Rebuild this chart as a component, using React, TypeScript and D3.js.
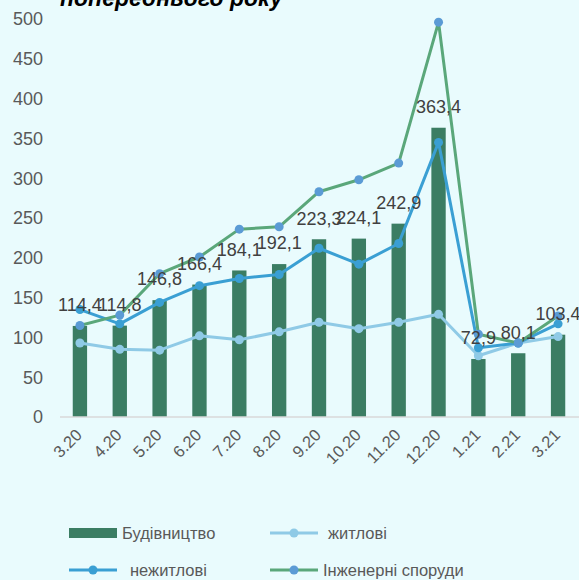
import React, { useEffect, useRef } from 'react';
import * as d3 from 'd3';

const months = ['3.20', '4.20', '5.20', '6.20', '7.20', '8.20', '9.20', '10.20', '11.20', '12.20', '1.21', '2.21', '3.21'];
const construction = [114.4, 114.8, 146.8, 166.4, 184.1, 192.1, 223.3, 224.1, 242.9, 363.4, 72.9, 80.1, 103.4];
const residential = [93, 85, 84, 102, 97, 107, 119, 111, 119, 129, 77, 93, 101];
const nonResidential = [135, 117, 144, 165, 174, 179, 212, 192, 218, 345, 87, 93, 117];
const engineering = [115, 128, 180, 201, 236, 239, 283, 298, 319, 496, 104, 93, 127];
const yTicks = [0, 50, 100, 150, 200, 250, 300, 350, 400, 450, 500];

const W = 579, H = 580;
const FONT = '"Liberation Sans", Arial, sans-serif';

const App = () => {
    const ref = useRef<SVGSVGElement>(null);

    useEffect(() => {
        const svg = d3.select(ref.current);
        svg.selectAll('*').remove();

        const x = d3.scaleBand().domain(months).range([60, 578]).padding(0);
        const y = d3.scaleLinear().domain([0, 500]).range([417, 19]);
        const cx = (m: string) => (x(m) as number) + x.bandwidth() / 2;
        const barW = x.bandwidth() * 0.36;

        svg.append('rect').attr('width', W).attr('height', H).attr('fill', '#e9fbfd');

        // title, mostly cut off at the top
        svg.append('text')
            .attr('x', 60).attr('y', 6)
            .style('font-family', FONT).style('font-size', '23px')
            .style('font-weight', 'bold').style('font-style', 'italic')
            .attr('fill', '#000')
            .text('попереднього року');

        // y axis labels
        svg.append('g').selectAll('text').data(yTicks).enter().append('text')
            .attr('x', 43).attr('y', d => y(d)).attr('dy', '0.35em')
            .attr('text-anchor', 'end')
            .style('font-family', FONT).style('font-size', '18px')
            .attr('fill', '#595959')
            .text(d => d);

        // bars
        svg.append('g').selectAll('rect').data(construction).enter().append('rect')
            .attr('x', (d, i) => cx(months[i]) - barW / 2)
            .attr('y', d => y(d))
            .attr('width', barW)
            .attr('height', d => y(0) - y(d))
            .attr('fill', '#3b7d63');

        // baseline
        svg.append('line')
            .attr('x1', 60).attr('x2', 579)
            .attr('y1', y(0)).attr('y2', y(0))
            .attr('stroke', '#d9d9d9').attr('stroke-width', 1.5);

        const line = d3.line<number>()
            .x((d, i) => cx(months[i]))
            .y(d => y(d));

        const series = [
            { values: residential, stroke: '#8fcae6', marker: '#8fcae6' },
            { values: nonResidential, stroke: '#3a9fd3', marker: '#3a9fd3' },
            { values: engineering, stroke: '#5aa77a', marker: '#5b9bd5' },
        ];

        series.forEach(s => {
            svg.append('path')
                .datum(s.values)
                .attr('d', line)
                .attr('fill', 'none')
                .attr('stroke', s.stroke)
                .attr('stroke-width', 3)
                .attr('stroke-linejoin', 'round');
            svg.append('g').selectAll('circle').data(s.values).enter().append('circle')
                .attr('cx', (d, i) => cx(months[i]))
                .attr('cy', d => y(d))
                .attr('r', 4.5)
                .attr('fill', s.marker);
        });

        // data labels
        svg.append('g').selectAll('text').data(construction).enter().append('text')
            .attr('x', (d, i) => cx(months[i]))
            .attr('y', d => y(d) - 21)
            .attr('dy', '0.35em')
            .attr('text-anchor', 'middle')
            .style('font-family', FONT).style('font-size', '18px')
            .attr('fill', '#404040')
            .text(d => d.toFixed(1).replace('.', ','));

        // x axis labels
        svg.append('g').selectAll('text').data(months).enter().append('text')
            .attr('transform', d => `translate(${cx(d) - 1},${432}) rotate(-45)`)
            .attr('text-anchor', 'end')
            .attr('dy', '0.35em')
            .style('font-family', FONT).style('font-size', '16.5px')
            .attr('fill', '#595959')
            .text(d => d);

        // legend
        const legend = [
            { name: 'Будівництво', type: 'bar', color: '#3b7d63', marker: '', x: 69, y: 533, tx: 122 },
            { name: 'житлові', type: 'line', color: '#8fcae6', marker: '#8fcae6', x: 270, y: 533, tx: 328 },
            { name: 'нежитлові', type: 'line', color: '#3a9fd3', marker: '#3a9fd3', x: 69, y: 570, tx: 130 },
            { name: 'Інженерні споруди', type: 'line', color: '#5aa77a', marker: '#5b9bd5', x: 270, y: 570, tx: 323 },
        ];
        const lg = svg.append('g').selectAll('g').data(legend).enter().append('g');
        lg.each(function (d) {
            const g = d3.select(this);
            if (d.type === 'bar') {
                g.append('rect').attr('x', d.x).attr('y', d.y - 5).attr('width', 48).attr('height', 10).attr('fill', d.color);
            } else {
                g.append('line').attr('x1', d.x).attr('x2', d.x + 48).attr('y1', d.y).attr('y2', d.y)
                    .attr('stroke', d.color).attr('stroke-width', 3);
                g.append('circle').attr('cx', d.x + 24).attr('cy', d.y).attr('r', 4.5).attr('fill', d.marker);
            }
            g.append('text')
                .attr('x', d.tx).attr('y', d.y).attr('dy', '0.35em')
                .style('font-family', FONT).style('font-size', '16.5px')
                .attr('fill', '#595959')
                .text(d.name);
        });
    }, []);

    return (
        <svg ref={ref} width={W} height={H} style={{ position: 'absolute', left: 0, top: 0 }} />
    );
};

export default App;
